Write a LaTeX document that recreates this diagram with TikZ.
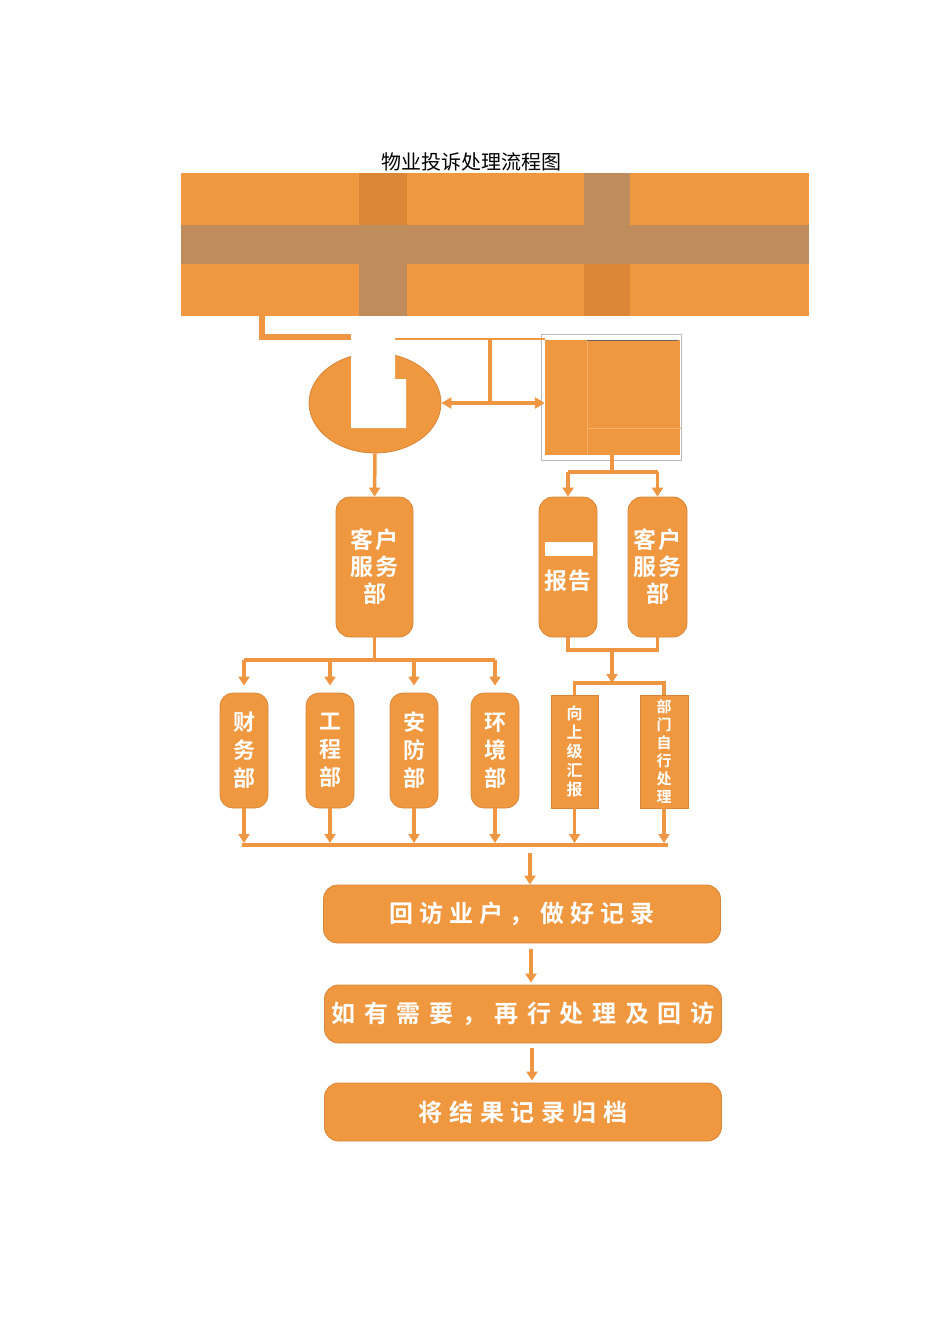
\documentclass[tikz,border=0pt]{standalone}
\usepackage{fontspec}
\usetikzlibrary{shapes.geometric,arrows.meta}
\newfontfamily\cjk{Noto Sans CJK SC}
\newfontfamily\cjkb{Noto Sans CJK SC Bold}
\definecolor{boxor}{RGB}{240,152,64}
\definecolor{edgeor}{RGB}{214,134,58}
\definecolor{bandbr}{RGB}{190,141,91}
\definecolor{bandor}{RGB}{220,134,56}
\definecolor{lineor}{RGB}{238,150,66}
\definecolor{seamor}{RGB}{246,176,110}

\begin{document}
\begin{tikzpicture}[x=1pt,y=1pt,yscale=-1,xscale=1,
  ln/.style={draw=lineor,line width=3.5pt},
  arr/.style={ln,-{Triangle[width=11pt,length=9pt]}},
  boxbase/.style={fill=boxor,draw=edgeor,line width=0.8pt,text=white,inner sep=0pt,align=center},
  tallbox/.style={boxbase,rounded corners=14pt,minimum width=#1,minimum height=140pt,
    font=\cjkb\addfontfeature{LetterSpace=6}\fontsize{23}{27}\selectfont},
  deptbox/.style={boxbase,rounded corners=13pt,minimum width=48pt,minimum height=115pt,
    font=\cjkb\fontsize{22}{28}\selectfont},
  stepbox/.style={boxbase,minimum width=48pt,minimum height=113pt},
  widebox/.style={boxbase,rounded corners=14pt,minimum width=397pt,minimum height=58pt,
    font=\cjkb\addfontfeature{LetterSpace=#1}\fontsize{24}{28}\selectfont}
]
\path[use as bounding box] (0,0) rectangle (950,1344);

%Title
\node[font=\cjk\fontsize{20}{24}\selectfont] (ttl) at (471,162) {物业投诉处理流程图};

%Banner with cross bands
\node[fill=boxor,minimum width=628pt,minimum height=143pt,inner sep=0pt] (top) at (495,244.5) {};
\fill[bandbr] (181,225) rectangle (809,264) ;
\fill[bandor] (359,173) rectangle (407,225) ;
\fill[bandbr] (359,264) rectangle (407,316) ;
\fill[bandbr] (584,173) rectangle (630,225) ;
\fill[bandor] (584,264) rectangle (630,316) ;

%Complaint circle and right square
\node[ellipse,fill=boxor,draw=edgeor,line width=0.8pt,minimum width=132pt,minimum height=100pt,inner sep=0pt] (rec) at (375,403) {};
\draw[gray!55,line width=0.6pt] (541,334) rectangle (681,460) ;
\node[fill=boxor,minimum width=135pt,minimum height=115pt,inner sep=0pt] (sq) at (612.5,397.5) {};
\draw[seamor,line width=0.6pt] (587,340) -- (587,455) (587,428) -- (681,428) ;
\draw[black!60,line width=0.6pt] (587,340) -- (678,340) ;

%Second row
\node[tallbox=77pt] (cs1) at (374.5,567) {客户\\服务\\部};
\node[tallbox=58pt] (r1) at (568,567) {\phantom{主管}\\报告};
\node[tallbox=59pt] (r2) at (657.5,567) {客户\\服务\\部};
\fill[white] (545,542) rectangle (593,556) ;

%Departments
\node[deptbox] (d1) at (244,750.5) {财\\务\\部};
\node[deptbox] (d2) at (330,750.5) {工\\程\\部};
\node[deptbox] (d3) at (414,750.5) {安\\防\\部};
\node[deptbox] (d4) at (495,750.5) {环\\境\\部};
\node[stepbox,minimum width=47pt,font=\cjkb\fontsize{16}{19}\selectfont] (u1) at (574.5,751.5) {向\\上\\级\\汇\\报};
\node[stepbox,font=\cjkb\fontsize{15}{18}\selectfont] (u2) at (664,751.5) {部\\门\\自\\行\\处\\理};

%Final steps
\node[widebox=26] (v1) at (522,914) {回访业户，做好记录};
\node[widebox=36] (v2) at (523,1014) {如有需要，再行处理及回访};
\node[widebox=28] (v3) at (523,1112) {将结果记录归档};

%Connectors from banner
\coordinate (tl) at (262,316);
\coordinate (wl) at (352,337);
\coordinate (wr) at (395,339);
\coordinate (tj) at (490,339);
\draw[draw=lineor,line width=6pt] (tl) |- (wl) ;
\draw[draw=lineor,line width=2pt] (wr) -- (wr -| sq.west) ;
\draw[ln] (tj) -- (tj |- rec.east) ;
\draw[ln,{Triangle[width=11pt,length=10pt]}-{Triangle[width=11pt,length=10pt]}] (rec.east) -- (rec.east -| sq.west) ;
\fill[white] (351,325) -- (395,325) -- (395,379) -- (406,379) -- (406,428) -- (351,428) -- cycle ;

%Connectors to second row
\draw[arr] (rec.south) -- (cs1.north) ;
\coordinate (j1) at (612,472);
\draw[ln] (sq.south -| j1) -- (j1) ;
\draw[ln] (r1.north |- j1) -- (r2.north |- j1) ;
\foreach \n in {r1,r2} \draw[arr] (\n.north |- j1) -- (\n.north) ;

%Right branch
\coordinate (j2) at (612,650);
\coordinate (j3) at (612,683);
\draw[ln] (r1.south) -- (r1.south |- j2) -- (r2.south |- j2) -- (r2.south) ;
\draw[arr] (j2) -- (j3) ;
\draw[ln] (u1.north) -- (u1.north |- j3) -- (u2.north |- j3) -- (u2.north) ;

%Left branch
\coordinate (j4) at (374.5,660);
\draw[ln] (cs1.south) -- (j4) ;
\draw[ln] (d1.north |- j4) -- (d4.north |- j4) ;
\foreach \n in {d1,d2,d3,d4} \draw[arr,shorten >=7pt] (\n.north |- j4) -- (\n.north) ;

%Merge line
\coordinate (j5) at (530,845);
\draw[ln] ([xshift=-2pt]d1.south |- j5) -- ([xshift=4pt]u2.south |- j5) ;
\foreach \n in {d1,d2,d3,d4,u1,u2} \draw[arr] (\n.south) -- ([yshift=-2pt]\n.south |- j5) ;
\draw[arr] ([yshift=8pt]j5) -- (j5 |- v1.north) ;
\draw[arr,shorten <=6pt,shorten >=2pt] ([xshift=9pt]v1.south) -- ([xshift=8pt]v2.north) ;
\draw[arr,shorten <=5pt,shorten >=2pt] ([xshift=9pt]v2.south) -- ([xshift=9pt]v3.north) ;

\end{tikzpicture}
\end{document}
